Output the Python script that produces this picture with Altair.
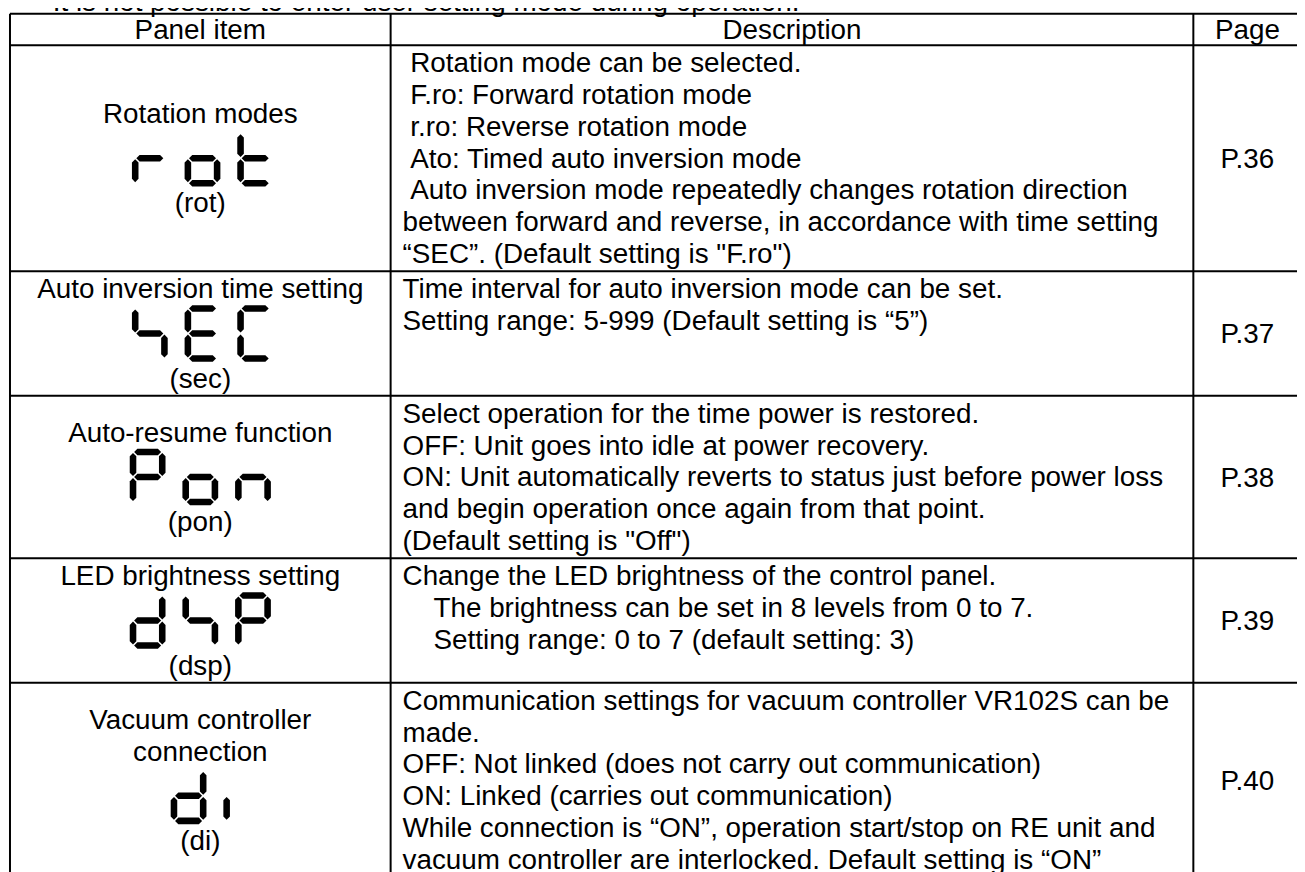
import altair as alt
import pandas as pd

# ---------------- content ----------------
NOTE = "It is not possible to enter user setting mode during operation."
HEADERS = ["Panel item", "Description", "Page"]
ITEM_NAMES = [
    ["Rotation modes"],
    ["Auto inversion time setting"],
    ["Auto-resume function"],
    ["LED brightness setting"],
    ["Vacuum controller", "connection"],
]
DISPLAY_CODES = ["rot", "SEC", "Pon", "dSP", "di"]
CODE_LABELS = ["(rot)", "(sec)", "(pon)", "(dsp)", "(di)"]
DESCRIPTIONS = [
    [" Rotation mode can be selected.",
     " F.ro: Forward rotation mode",
     " r.ro: Reverse rotation mode",
     " Ato: Timed auto inversion mode",
     " Auto inversion mode repeatedly changes rotation direction",
     "between forward and reverse, in accordance with time setting",
     "\u201cSEC\u201d. (Default setting is \"F.ro\")"],
    ["Time interval for auto inversion mode can be set.",
     "Setting range: 5-999 (Default setting is \u201c5\u201d)"],
    ["Select operation for the time power is restored.",
     "OFF: Unit goes into idle at power recovery.",
     "ON: Unit automatically reverts to status just before power loss",
     "and begin operation once again from that point.",
     "(Default setting is \"Off\")"],
    ["Change the LED brightness of the control panel.",
     "    The brightness can be set in 8 levels from 0 to 7.",
     "    Setting range: 0 to 7 (default setting: 3)"],
    ["Communication settings for vacuum controller VR102S can be",
     "made.",
     "OFF: Not linked (does not carry out communication)",
     "ON: Linked (carries out communication)",
     "While connection is \u201cON\u201d, operation start/stop on RE unit and",
     "vacuum controller are interlocked. Default setting is \u201cON\u201d"],
]
PAGES = ["P.36", "P.37", "P.38", "P.39", "P.40"]
# lit segments of the seven-segment characters shown on the panel
SEGMENTS = {"r": "eg", "o": "cdeg", "t": "defg", "S": "fgc", "E": "adefg",
            "C": "adef", "P": "abefg", "n": "ceg", "d": "bcdeg", "i": "e"}

# ---------------- layout (style) ----------------
W, H = 1297, 864
X_LEFT, X_C1, X_C2, X_RIGHT = 2, 385, 1192.7, 1301.5
Y_TOP, HEADER_H = 3, 31.7
LH, PAD, LEDH, ASC, CAP_HALF = 32, 3.5, 57.8, 25.5, 10
TEXT_PAD = 12
DIG_W, DIG_H, SEG_T, PITCH, GAP = 36, 57, 6.6, 53, 1.1
FONT, FS = "Liberation Sans", 28
SPACE_W = 0.278 * FS

left_rows, center_rows, rules, seg_h, seg_v = [], [], [], [], []

left_rows.append({"x": 45, "y": 0.3, "text": NOTE})
col_centers = [(X_LEFT + X_C1) / 2, (X_C1 + X_C2) / 2, (X_C2 + X_RIGHT) / 2]
hb = Y_TOP + HEADER_H / 2 + CAP_HALF
for h, cx in zip(HEADERS, col_centers):
    center_rows.append({"x": cx, "y": hb, "text": h})

hlines = [Y_TOP, Y_TOP + HEADER_H]


def seg_positions(cx, ty):
    hx = (DIG_W - SEG_T) / 2
    ya, yg, yd = ty + SEG_T / 2, ty + DIG_H / 2, ty + DIG_H - SEG_T / 2
    return {
        "a": (cx, ya, "h"), "g": (cx, yg, "h"), "d": (cx, yd, "h"),
        "f": (cx - hx, (ya + yg) / 2, "v"), "b": (cx + hx, (ya + yg) / 2, "v"),
        "e": (cx - hx, (yg + yd) / 2, "v"), "c": (cx + hx, (yg + yd) / 2, "v"),
    }


half_h = ((DIG_W - SEG_T) - 2 * GAP) / 2
top = Y_TOP + HEADER_H
for i in range(len(DESCRIPTIONS)):
    names, desc = ITEM_NAMES[i], DESCRIPTIONS[i]
    block = len(names) * LH + LEDH + LH
    row_h = max(len(desc) * LH + PAD, block + PAD)
    # description lines (leading spaces become an indent)
    for j, line in enumerate(desc):
        indent = (len(line) - len(line.lstrip(" "))) * SPACE_W
        left_rows.append({"x": X_C1 + TEXT_PAD + indent,
                          "y": top + PAD / 2 + ASC + j * LH, "text": line.lstrip(" ")})
    # page
    center_rows.append({"x": col_centers[2], "y": top + row_h / 2 + CAP_HALF, "text": PAGES[i]})
    # left cell
    start = top + (row_h - block) / 2
    for j, nm in enumerate(names):
        center_rows.append({"x": col_centers[0], "y": start + ASC + j * LH, "text": nm})
    led_top = start + len(names) * LH + (LEDH - DIG_H) / 2
    center_rows.append({"x": col_centers[0], "y": start + len(names) * LH + LEDH + ASC,
                        "text": CODE_LABELS[i]})
    # seven segment display, centred on its ink
    segs = []
    for k, ch in enumerate(DISPLAY_CODES[i]):
        pos = seg_positions(k * PITCH, led_top)
        for s in SEGMENTS[ch]:
            segs.append(pos[s])
    xs_min = min(x - (SEG_T / 2 if o == "v" else half_h) for x, y, o in segs)
    xs_max = max(x + (SEG_T / 2 if o == "v" else half_h) for x, y, o in segs)
    shift = col_centers[0] - (xs_min + xs_max) / 2
    for x, y, o in segs:
        (seg_h if o == "h" else seg_v).append({"x": x + shift, "y": y})
    top += row_h
    hlines.append(top)

bottom = top
for y in hlines[:-1]:
    rules.append({"x": X_LEFT, "x2": X_RIGHT, "y": y, "y2": y})
for x in [X_LEFT, X_C1, X_C2, X_RIGHT]:
    rules.append({"x": x, "x2": x, "y": Y_TOP, "y2": bottom})

XS = alt.Scale(domain=[0, W], nice=False, zero=False)
YS = alt.Scale(domain=[0, H], nice=False, zero=False, reverse=True)
X = alt.X("x:Q", scale=XS, axis=None)
Y = alt.Y("y:Q", scale=YS, axis=None)

rule_layer = alt.Chart(pd.DataFrame(rules)).mark_rule(color="black", strokeWidth=2).encode(
    x=X, x2="x2:Q", y=Y, y2="y2:Q")

hl = (DIG_W - SEG_T) - 2 * GAP
vl = (DIG_H / 2 - SEG_T / 2) - 2 * GAP
rh = (SEG_T / 2) / (hl / 2)
rv = (SEG_T / 2) / (vl / 2)
HPATH = (f"M-1,0 L{-1 + rh:.4f},{-rh:.4f} L{1 - rh:.4f},{-rh:.4f} L1,0 "
         f"L{1 - rh:.4f},{rh:.4f} L{-1 + rh:.4f},{rh:.4f} Z")
VPATH = (f"M0,-1 L{rv:.4f},{-1 + rv:.4f} L{rv:.4f},{1 - rv:.4f} L0,1 "
         f"L{-rv:.4f},{1 - rv:.4f} L{-rv:.4f},{-1 + rv:.4f} Z")

h_layer = alt.Chart(pd.DataFrame(seg_h)).mark_point(
    shape=HPATH, size=hl * hl, filled=True, color="black", opacity=1, strokeWidth=0
).encode(x=X, y=Y)
v_layer = alt.Chart(pd.DataFrame(seg_v)).mark_point(
    shape=VPATH, size=vl * vl, filled=True, color="black", opacity=1, strokeWidth=0
).encode(x=X, y=Y)

tl = alt.Chart(pd.DataFrame(left_rows)).mark_text(
    align="left", baseline="alphabetic", font=FONT, fontSize=FS, color="black"
).encode(x=X, y=Y, text="text:N")
tc = alt.Chart(pd.DataFrame(center_rows)).mark_text(
    align="center", baseline="alphabetic", font=FONT, fontSize=FS, color="black"
).encode(x=X, y=Y, text="text:N")

chart = alt.layer(rule_layer, h_layer, v_layer, tl, tc).properties(
    width=W, height=H, padding=0, autosize="none", background="white"
).configure_view(stroke=None)

chart.save("out.html", embed_options={"renderer": "svg", "actions": False})
